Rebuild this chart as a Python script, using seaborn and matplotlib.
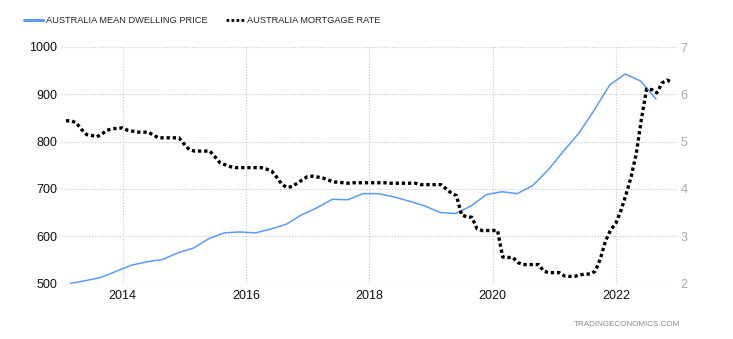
import numpy as np
import pandas as pd
import matplotlib
matplotlib.use("Agg")
import matplotlib.pyplot as plt
import seaborn as sns
from matplotlib.lines import Line2D

# ---- data ----
price_start = 2013.15   # quarterly
price_values = [500, 506, 513, 526, 539, 546, 551, 565, 575, 595, 607, 609, 607,
                615, 625, 645, 660, 678, 677, 690, 690, 683, 674, 664, 650, 648,
                664, 688, 694, 690, 707, 740, 780, 818, 867, 920, 943, 928, 890]
rate_start = 2013.08    # monthly
rate_values = [5.44, 5.44, 5.40, 5.26, 5.15, 5.13, 5.10, 5.16, 5.24, 5.27, 5.28, 5.29,
               5.24, 5.22, 5.20, 5.20, 5.20, 5.14, 5.08, 5.08, 5.08, 5.08, 5.08, 4.95,
               4.83, 4.80, 4.80, 4.80, 4.80, 4.68, 4.55, 4.51, 4.47, 4.45, 4.45, 4.45,
               4.45, 4.45, 4.45, 4.42, 4.38, 4.25, 4.10, 4.03, 4.05, 4.12, 4.19, 4.26,
               4.27, 4.25, 4.23, 4.19, 4.15, 4.14, 4.13, 4.12, 4.13, 4.13, 4.13, 4.13,
               4.13, 4.13, 4.13, 4.12, 4.12, 4.12, 4.12, 4.12, 4.12, 4.09, 4.09, 4.09,
               4.09, 4.09, 4.00, 3.91, 3.86, 3.45, 3.41, 3.40, 3.16, 3.12, 3.12, 3.12,
               3.12, 2.56, 2.55, 2.55, 2.44, 2.40, 2.40, 2.40, 2.40, 2.26, 2.23, 2.23,
               2.23, 2.16, 2.15, 2.15, 2.18, 2.20, 2.20, 2.26, 2.52, 2.90, 3.13, 3.27,
               3.54, 3.88, 4.26, 4.75, 5.48, 6.11, 6.10, 6.03, 6.24, 6.30, 6.25]
x_ticks = [2014, 2016, 2018, 2020, 2022]
left_ticks = [500, 600, 700, 800, 900, 1000]
right_ticks = [2, 3, 4, 5, 6, 7]
price_label = "AUSTRALIA MEAN DWELLING PRICE"
rate_label = "AUSTRALIA MORTGAGE RATE"

price_df = pd.DataFrame({"t": price_start + 0.25 * np.arange(len(price_values)),
                         "v": price_values})
rate_df = pd.DataFrame({"t": rate_start + np.arange(len(rate_values)) / 12.0,
                        "v": rate_values})

sns.set_style("white")
plt.rcParams["font.family"] = ["Liberation Sans", "DejaVu Sans"]

fig = plt.figure(figsize=(7.33, 3.39), dpi=100)
ax = fig.add_axes([61/733, 1-283.5/339, (677-61)/733, (283.5-47)/339])
ax2 = ax.twinx()

blue = "#5b9cf2"
sns.lineplot(data=price_df, x="t", y="v", ax=ax, color=blue, linewidth=1.1)
sns.lineplot(data=rate_df, x="t", y="v", ax=ax2, color="black", linewidth=2.4,
             linestyle=(0, (1, 0.85)))

ax.set_xlim(2013.0, 2022.99)
ax.set_ylim(500, 1000)
ax2.set_ylim(2, 7)
ax.set_xticks(x_ticks)
ax.set_xticklabels([str(t) for t in x_ticks])
ax.set_yticks(left_ticks)
ax2.set_yticks(right_ticks)
ax.set_xlabel("")
ax.set_ylabel("")
ax2.set_ylabel("")

for a in (ax, ax2):
    for s in a.spines.values():
        s.set_visible(False)

ax.grid(True, color="#c8c8c8", linestyle=(0, (1, 1.5)), linewidth=0.8)
ax.set_axisbelow(True)
ax.tick_params(axis="both", length=0, labelsize=9, colors="#111111", pad=2.5)
ax.tick_params(axis="x", pad=5)
ax2.tick_params(axis="y", length=0, labelsize=9, colors="#a8a8a8", pad=2.5)

handles = [Line2D([], [], color=blue, linewidth=2.2),
           Line2D([], [], color="black", linewidth=2.0, linestyle=(0, (1, 0.8)))]
fig.legend(handles, [price_label, rate_label], loc="upper left",
           bbox_to_anchor=(16/733, 1-8/339), ncol=2, frameon=False,
           fontsize=6.7, handlelength=2.0, handletextpad=0.35, columnspacing=1.9)

fig.text(680/733, 1-324/339, "TRADINGECONOMICS.COM", ha="right", va="center",
         fontsize=5.8, color="#8a8a8a")

fig.savefig("out.png", dpi=100)
